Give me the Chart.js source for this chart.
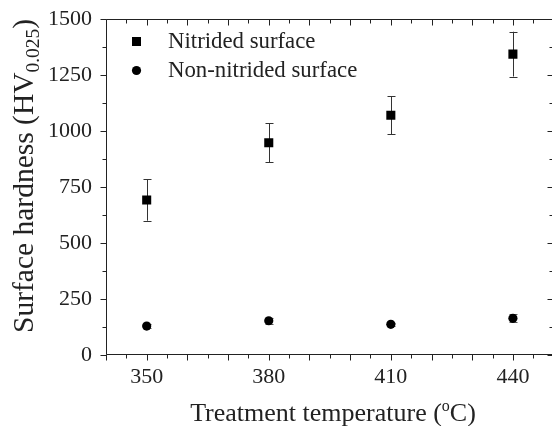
<!DOCTYPE html>
<html>
<head>
<meta charset="utf-8">
<script src="https://cdn.jsdelivr.net/npm/chart.js@4/dist/chart.umd.min.js"></script>
<style>
  html, body { margin: 0; padding: 0; background: #fff; overflow: hidden; }
  #wrap { width: 560px; height: 426px; }
</style>
</head>
<body>
<div id="wrap"><canvas id="hardnessChart" width="560" height="426"></canvas></div>
<script>
// temperatures (ºC)
const temps = [350, 380, 410, 440];
// surface hardness HV0.025
const nitrided = [692, 948, 1071, 1344];
const nitridedErr = [92, 87, 85, 100];
const nonNitrided = [129, 153, 137, 164];
const nonNitridedErr = [8, 14, 8, 18];
const xLabels = [350, 380, 410, 440];
const yLabels = [0, 250, 500, 750, 1000, 1250, 1500];

const serif = "'Liberation Serif', 'Times New Roman', serif";
const ink = "#222";

const toPoints = (vals) => temps.map((t, i) => ({ x: t, y: vals[i] }));

// error bars, frame, tick marks, legend and axis titles
const decorations = {
    id: "decorations",
    beforeDatasetsDraw(chart) {
        const ctx = chart.ctx;
        const xs = chart.scales.x, ys = chart.scales.y;
        const sets = [[nitrided, nitridedErr, "#333"], [nonNitrided, nonNitridedErr, "#555"]];
        ctx.save();
        ctx.lineWidth = 1;
        sets.forEach(([vals, errs, col]) => {
            ctx.strokeStyle = col;
            temps.forEach((t, i) => {
                const px = Math.round(xs.getPixelForValue(t)) + 0.5;
                const top = ys.getPixelForValue(vals[i] + errs[i]);
                const bot = ys.getPixelForValue(vals[i] - errs[i]);
                ctx.beginPath();
                ctx.moveTo(px, top); ctx.lineTo(px, bot);
                ctx.moveTo(px - 4, Math.round(top) + 0.5); ctx.lineTo(px + 4, Math.round(top) + 0.5);
                ctx.moveTo(px - 4, Math.round(bot) + 0.5); ctx.lineTo(px + 4, Math.round(bot) + 0.5);
                ctx.stroke();
            });
        });
        ctx.restore();
    },
    afterDraw(chart) {
        const ctx = chart.ctx;
        const a = chart.chartArea;
        const xs = chart.scales.x, ys = chart.scales.y;
        ctx.save();
        ctx.strokeStyle = ink;
        ctx.lineWidth = 1;
        const L = Math.round(a.left) + 0.5, R = Math.round(a.right) - 0.5;
        const T = Math.round(a.top) + 0.5, B = Math.round(a.bottom) - 0.5;
        ctx.beginPath();
        ctx.rect(L, T, R - L, B - T);
        // x ticks: outward at bottom, inward at top
        for (let v = 340; v <= 450; v += 5) {
            const px = Math.round(xs.getPixelForValue(v)) + 0.5;
            const len = v % 10 === 0 ? 6 : 4;
            ctx.moveTo(px, B); ctx.lineTo(px, B + len);
            ctx.moveTo(px, T); ctx.lineTo(px, T + len);
        }
        // y ticks: outward at left, inward at right
        for (let v = 0; v <= 1500; v += 125) {
            const py = Math.round(ys.getPixelForValue(v)) + 0.5;
            const len = v % 250 === 0 ? 6 : 4;
            ctx.moveTo(L, py); ctx.lineTo(L - len, py);
            ctx.moveTo(R, py); ctx.lineTo(R - len, py);
        }
        ctx.stroke();

        // legend inside the plot
        ctx.fillStyle = "#000";
        ctx.fillRect(132, 37, 9, 9);
        ctx.beginPath();
        ctx.arc(136.5, 70.5, 4.6, 0, Math.PI * 2);
        ctx.fill();
        ctx.font = "22.8px " + serif;
        ctx.textBaseline = "middle";
        ctx.textAlign = "left";
        ctx.fillStyle = ink;
        ctx.fillText("Nitrided surface", 168, 42);
        ctx.fillText("Non-nitrided surface", 168, 71);

        // x title with raised "o"
        ctx.textBaseline = "alphabetic";
        const xParts = [["Treatment temperature (", 26, 0], ["o", 16, -10], ["C)", 26, 0]];
        let w = 0;
        xParts.forEach(([s, f]) => { ctx.font = f + "px " + serif; w += ctx.measureText(s).width; });
        let cx = 333 - w / 2;
        xParts.forEach(([s, f, dy]) => {
            ctx.font = f + "px " + serif;
            ctx.fillText(s, cx, 421 + dy);
            cx += ctx.measureText(s).width;
        });

        // y title with subscript
        ctx.translate(33, 333);
        ctx.rotate(-Math.PI / 2);
        const yParts = [["Surface hardness (HV", 29.5, 0], ["0.025", 19.5, 6], [")", 29.5, 0]];
        let tx = 0;
        yParts.forEach(([s, f, dy]) => {
            ctx.font = f + "px " + serif;
            ctx.fillText(s, tx, dy);
            tx += ctx.measureText(s).width;
        });
        ctx.restore();
    },
};

const data = {
    datasets: [
        {
            label: "Nitrided surface",
            data: toPoints(nitrided),
            pointStyle: "rect",
            pointRadius: 6.4,
            backgroundColor: "#000",
            borderColor: "#000",
            borderWidth: 0,
        },
        {
            label: "Non-nitrided surface",
            data: toPoints(nonNitrided),
            pointStyle: "circle",
            pointRadius: 4.6,
            backgroundColor: "#000",
            borderColor: "#000",
            borderWidth: 0,
        },
    ],
};

const config = {
    type: "scatter",
    data: data,
    options: {
        responsive: false,
        animation: false,
        layout: { padding: { top: 19, right: 3, left: 0, bottom: 0 } },
        plugins: { legend: { display: false }, tooltip: { enabled: false } },
        scales: {
            x: {
                type: "linear",
                min: 340,
                max: 450,
                afterFit: (s) => { s.height = 71; },
                afterBuildTicks: (s) => { s.ticks = xLabels.map((v) => ({ value: v })); },
                grid: { display: false },
                border: { display: false },
                ticks: {
                    padding: 1,
                    color: ink,
                    font: { family: serif, size: 22 },
                    maxRotation: 0,
                    callback: (v) => String(v),
                },
            },
            y: {
                min: 0,
                max: 1500,
                afterFit: (s) => { s.width = 106; },
                afterBuildTicks: (s) => { s.ticks = yLabels.map((v) => ({ value: v })); },
                grid: { display: false },
                border: { display: false },
                ticks: {
                    padding: 6,
                    color: ink,
                    font: { family: serif, size: 22 },
                    callback: (v) => String(v),
                },
            },
        },
    },
    plugins: [decorations],
};

new Chart(document.getElementById("hardnessChart"), config);
</script>
</body>
</html>
